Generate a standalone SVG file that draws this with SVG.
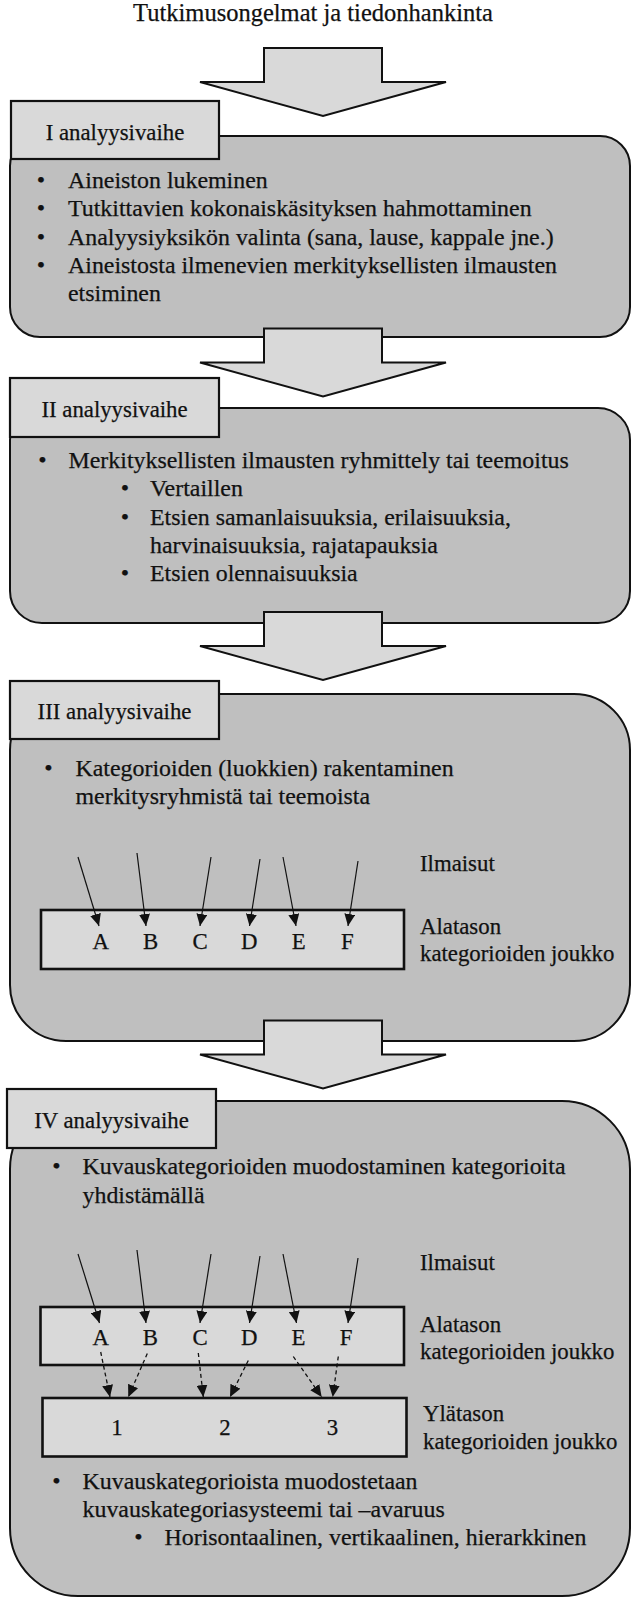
<svg xmlns="http://www.w3.org/2000/svg" xmlns:xlink="http://www.w3.org/1999/xlink" width="632" height="1598" viewBox="0 0 632 1598" font-family="'Liberation Serif', 'DejaVu Serif', serif">
  <style>
    text { font-family: 'Liberation Serif', 'DejaVu Serif', serif; fill: #111; stroke: #111; stroke-width: 0.25; }
    .title { font-size: 24.5px; text-anchor: middle; }
    .body { font-size: 23.9px; }
    .bul { font-size: 23.9px; text-anchor: middle; }
    .tabtxt { font-size: 22.8px; text-anchor: middle; }
    .lbl { font-size: 22.8px; }
    .cat { font-size: 22.8px; text-anchor: middle; }
    .panel { fill: #bfbfbf; stroke: #111; stroke-width: 2; }
    .tab { fill: #d9d9d9; stroke: #111; stroke-width: 2.2; }
    .inner { fill: #d9d9d9; stroke: #111; stroke-width: 2.6; }
    .bigarrow { fill: #d9d9d9; stroke: #111; stroke-width: 2; stroke-linejoin: miter; }
    .link { stroke: #111; stroke-width: 1.2; fill: none; marker-end: url(#head); }
    .dash { stroke: #111; stroke-width: 1.3; fill: none; stroke-dasharray: 4 3; marker-end: url(#head); }
  </style>
  <defs>
    <marker id="head" viewBox="0 0 12 11" refX="12" refY="5.5" markerWidth="12" markerHeight="11" markerUnits="userSpaceOnUse" orient="auto">
      <path d="M0,0 L12,5.5 L0,11 Z" fill="#111"/>
    </marker>
    <!-- block arrow pointing down; shaft top at y=0 -->
    <polygon id="blockArrow" class="bigarrow" points="264,0 382,0 382,34 446,34 323,68 200,34 264,34"/>
  </defs>

  <text class="title" x="313" y="21">Tutkimusongelmat ja tiedonhankinta</text>

  <!-- Phase I -->
  <g id="phase1">
    <rect class="panel" x="10" y="136" width="620" height="201" rx="30" ry="30"/>
    <rect class="tab" x="11" y="101" width="208" height="58"/>
    <text class="tabtxt" x="115" y="139.5">I analyysivaihe</text>
    <text class="bul" x="41" y="188">•</text>
    <text class="body" x="68" y="188">Aineiston lukeminen</text>
    <text class="bul" x="41" y="216">•</text>
    <text class="body" x="68" y="216">Tutkittavien kokonaiskäsityksen hahmottaminen</text>
    <text class="bul" x="41" y="244.5">•</text>
    <text class="body" x="68" y="244.5">Analyysiyksikön valinta (sana, lause, kappale jne.)</text>
    <text class="bul" x="41" y="273">•</text>
    <text class="body" x="68" y="273">Aineistosta ilmenevien merkityksellisten ilmausten</text>
    <text class="body" x="68" y="301">etsiminen</text>
  </g>

  <!-- Phase II -->
  <g id="phase2">
    <rect class="panel" x="10" y="408" width="620" height="215" rx="32" ry="32"/>
    <rect class="tab" x="10" y="378" width="209" height="59"/>
    <text class="tabtxt" x="114.5" y="417">II analyysivaihe</text>
    <text class="bul" x="42.5" y="468">•</text>
    <text class="body" x="68.5" y="468">Merkityksellisten ilmausten ryhmittely tai teemoitus</text>
    <text class="bul" x="125" y="496">•</text>
    <text class="body" x="150" y="496">Vertaillen</text>
    <text class="bul" x="125" y="524.5">•</text>
    <text class="body" x="150" y="524.5">Etsien samanlaisuuksia, erilaisuuksia,</text>
    <text class="body" x="150" y="552.5">harvinaisuuksia, rajatapauksia</text>
    <text class="bul" x="125" y="581">•</text>
    <text class="body" x="150" y="581">Etsien olennaisuuksia</text>
  </g>

  <!-- Phase III -->
  <g id="phase3">
    <rect class="panel" x="10" y="694" width="620" height="347" rx="56" ry="56"/>
    <rect class="tab" x="10" y="681" width="209" height="58"/>
    <text class="tabtxt" x="114.5" y="718.5">III analyysivaihe</text>
    <text class="bul" x="48.5" y="776">•</text>
    <text class="body" x="75.5" y="776">Kategorioiden (luokkien) rakentaminen</text>
    <text class="body" x="75.5" y="803.5">merkitysryhmistä tai teemoista</text>
    <text class="lbl" x="420" y="871">Ilmaisut</text>
    <text class="lbl" x="420" y="933.5">Alatason</text>
    <text class="lbl" x="420" y="960.5">kategorioiden joukko</text>
  </g>
  <g id="lower3">
    <rect class="inner" x="41" y="910" width="363" height="59"/>
    <text class="cat" x="100.7" y="948.5">A</text>
    <text class="cat" x="150.7" y="948.5">B</text>
    <text class="cat" x="200" y="948.5">C</text>
    <text class="cat" x="249.3" y="948.5">D</text>
    <text class="cat" x="298.7" y="948.5">E</text>
    <text class="cat" x="347.3" y="948.5">F</text>
  </g>

  <!-- Phase IV -->
  <g id="phase4">
    <rect class="panel" x="10" y="1101" width="620" height="495" rx="68" ry="68"/>
    <rect class="tab" x="7" y="1089" width="209" height="59"/>
    <text class="tabtxt" x="111.5" y="1127.5">IV analyysivaihe</text>
    <text class="bul" x="56.5" y="1174">•</text>
    <text class="body" x="82.5" y="1174">Kuvauskategorioiden muodostaminen kategorioita</text>
    <text class="body" x="82.5" y="1202.5">yhdistämällä</text>
    <text class="lbl" x="420" y="1269.5">Ilmaisut</text>
    <text class="lbl" x="420" y="1331.5">Alatason</text>
    <text class="lbl" x="420" y="1358.5">kategorioiden joukko</text>
    <text class="lbl" x="423" y="1421">Ylätason</text>
    <text class="lbl" x="423" y="1448.5">kategorioiden joukko</text>
    <text class="bul" x="56.5" y="1488.5">•</text>
    <text class="body" x="82.5" y="1488.5">Kuvauskategorioista muodostetaan</text>
    <text class="body" x="82.5" y="1516.5">kuvauskategoriasysteemi tai –avaruus</text>
    <text class="bul" x="138.5" y="1545">•</text>
    <text class="body" x="164.5" y="1545">Horisontaalinen, vertikaalinen, hierarkkinen</text>
  </g>
  <g id="lower4">
    <rect class="inner" x="40.5" y="1307" width="363.5" height="58"/>
    <text class="cat" x="100.7" y="1345">A</text>
    <text class="cat" x="150.3" y="1345">B</text>
    <text class="cat" x="200" y="1345">C</text>
    <text class="cat" x="249.3" y="1345">D</text>
    <text class="cat" x="298.5" y="1345">E</text>
    <text class="cat" x="346" y="1345">F</text>
  </g>
  <g id="upper4">
    <rect class="inner" x="42.5" y="1398" width="364" height="58.5"/>
    <text class="cat" x="117" y="1435">1</text>
    <text class="cat" x="225" y="1435">2</text>
    <text class="cat" x="332.5" y="1435">3</text>
  </g>

  <!-- Connectors -->
  <g id="connectors">
    <use xlink:href="#blockArrow" href="#blockArrow" transform="translate(0,48)"/>
    <use xlink:href="#blockArrow" href="#blockArrow" transform="translate(0,328.5)"/>
    <use xlink:href="#blockArrow" href="#blockArrow" transform="translate(0,612)"/>
    <use xlink:href="#blockArrow" href="#blockArrow" transform="translate(0,1020.5)"/>

    <!-- expressions to lower-level categories (III) -->
    <line class="link" x1="78" y1="857" x2="99" y2="926"/>
    <line class="link" x1="137" y1="853" x2="146" y2="926"/>
    <line class="link" x1="211" y1="857" x2="200" y2="926"/>
    <line class="link" x1="260" y1="859" x2="249.5" y2="926"/>
    <line class="link" x1="283" y1="857" x2="296" y2="926"/>
    <line class="link" x1="358" y1="861" x2="348" y2="926"/>

    <!-- expressions to lower-level categories (IV) -->
    <line class="link" x1="78" y1="1254" x2="99.5" y2="1323"/>
    <line class="link" x1="137" y1="1250" x2="146" y2="1323"/>
    <line class="link" x1="211" y1="1254" x2="200" y2="1323"/>
    <line class="link" x1="260" y1="1256" x2="249.5" y2="1323"/>
    <line class="link" x1="283" y1="1254" x2="296.5" y2="1323"/>
    <line class="link" x1="358" y1="1258" x2="348" y2="1323"/>

    <!-- lower-level to upper-level categories -->
    <line class="dash" x1="100.7" y1="1352" x2="110" y2="1397"/>
    <line class="dash" x1="147.3" y1="1353.5" x2="128.3" y2="1397"/>
    <line class="dash" x1="198.3" y1="1353" x2="203.3" y2="1397"/>
    <line class="dash" x1="248.3" y1="1360.5" x2="230" y2="1397"/>
    <line class="dash" x1="293.3" y1="1356.5" x2="321.7" y2="1397"/>
    <line class="dash" x1="338.3" y1="1356.5" x2="332.7" y2="1397"/>
  </g>
</svg>
